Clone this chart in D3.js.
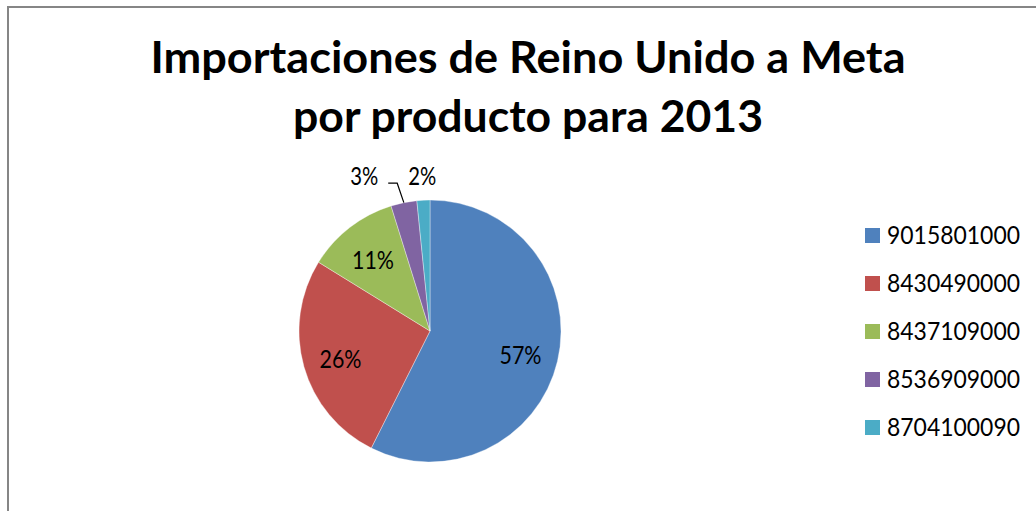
<!DOCTYPE html>
<html><head><meta charset="utf-8">
<script src="https://cdn.jsdelivr.net/npm/d3@7"></script>
<style>html,body{margin:0;padding:0;background:#fff;overflow:hidden}</style>
</head><body>
<svg id="chart" width="1036" height="511"></svg>
<script>
const titleLines = ["Importaciones de Reino Unido a Meta", "por producto para 2013"];
const categories = ["9015801000", "8430490000", "8437109000", "8536909000", "8704100090"];
const values = [57.4, 26.4, 11.4, 3.2, 1.6];
const colors = ["#4F81BD", "#C0504D", "#9BBB59", "#8064A2", "#4BACC6"];

const svg = d3.select("#chart");
const font = "Lato, 'Open Sans', sans-serif";

// chart area border
svg.append("rect").attr("x", 8).attr("y", 7).attr("width", 1100).attr("height", 600)
  .attr("fill", "#fff").attr("stroke", "#868686").attr("stroke-width", 2);

// title
const titleW = [755, 470];
const titleY = [73, 132];
titleLines.forEach((t, i) => {
  svg.append("text").attr("x", 528).attr("y", titleY[i]).attr("text-anchor", "middle")
    .attr("font-family", font).attr("font-weight", "bold").attr("font-size", 43)
    .attr("textLength", titleW[i]).attr("lengthAdjust", "spacingAndGlyphs")
    .attr("fill", "#000").text(t);
});

const cx = 430, cy = 331, R = 131;
const total = d3.sum(values);
const pie = d3.pie().sort(null).value(d => d)(values);
const arc = d3.arc().innerRadius(0).outerRadius(R);
const g = svg.append("g").attr("transform", `translate(${cx},${cy})`);

g.selectAll("path.slice").data(pie).enter().append("path")
  .attr("class", "slice").attr("d", arc)
  .attr("fill", (d, i) => colors[i])
  .attr("stroke", "#fff").attr("stroke-width", 0.6).attr("stroke-opacity", 0.6);

const pct = v => Math.round(v / total * 100) + "%";
const labelFS = 25;
const labelLen = s => s.length * 14;

// inside labels
const inner = pie.filter(d => d.value / total >= 0.05);
const innerArc = d3.arc().innerRadius(R * 0.71).outerRadius(R * 0.71);
inner.forEach(d => {
  const c = innerArc.centroid(d);
  const s = pct(d.value);
  g.append("text").attr("x", c[0]).attr("y", c[1] + 3).attr("dy", "0.35em")
    .attr("text-anchor", "middle").attr("font-family", font).attr("font-size", labelFS)
    .attr("textLength", labelLen(s)).attr("lengthAdjust", "spacingAndGlyphs")
    .attr("fill", "#000").text(s);
});

// outside labels for small slices
const outer = pie.filter(d => d.value / total < 0.05);
const outArc = d3.arc().innerRadius(R + 24).outerRadius(R + 24);
const edgeArc = d3.arc().innerRadius(R).outerRadius(R);
const labW = 30;
const outs = outer.map(d => {
  const c = outArc.centroid(d);
  return { d, x: c[0], y: c[1], ox: c[0], edge: edgeArc.centroid(d) };
});
for (let i = outs.length - 2; i >= 0; i--) {
  const minGap = labW + 28;
  if (outs[i + 1].x - outs[i].x < minGap) outs[i].x = outs[i + 1].x - minGap;
}
outs.forEach(o => {
  const s = pct(o.d.value);
  g.append("text").attr("x", o.x).attr("y", outs[outs.length - 1].y).attr("dy", "0.35em")
    .attr("text-anchor", "middle").attr("font-family", font).attr("font-size", labelFS)
    .attr("textLength", labelLen(s)).attr("lengthAdjust", "spacingAndGlyphs")
    .attr("fill", "#000").text(s);
  if (Math.abs(o.x - o.ox) > 4) {
    const ly = outs[outs.length - 1].y + 7;
    const x0 = o.x + labW / 2 + 9;
    g.append("polyline")
      .attr("points", [[x0, ly], [x0 + 9, ly], o.edge].map(p => p.join(",")).join(" "))
      .attr("fill", "none").attr("stroke", "#000").attr("stroke-width", 1.2);
  }
});

// legend
const legY = d3.scalePoint().domain(categories).range([235, 427]);
const leg = svg.append("g");
categories.forEach((c, i) => {
  leg.append("rect").attr("x", 865).attr("y", legY(c) - 7).attr("width", 15).attr("height", 15)
    .attr("fill", colors[i]);
  leg.append("text").attr("x", 887).attr("y", legY(c) + 9)
    .attr("font-family", font).attr("font-size", 25)
    .attr("textLength", 133).attr("lengthAdjust", "spacingAndGlyphs")
    .attr("fill", "#000").text(c);
});
</script>
</body></html>
